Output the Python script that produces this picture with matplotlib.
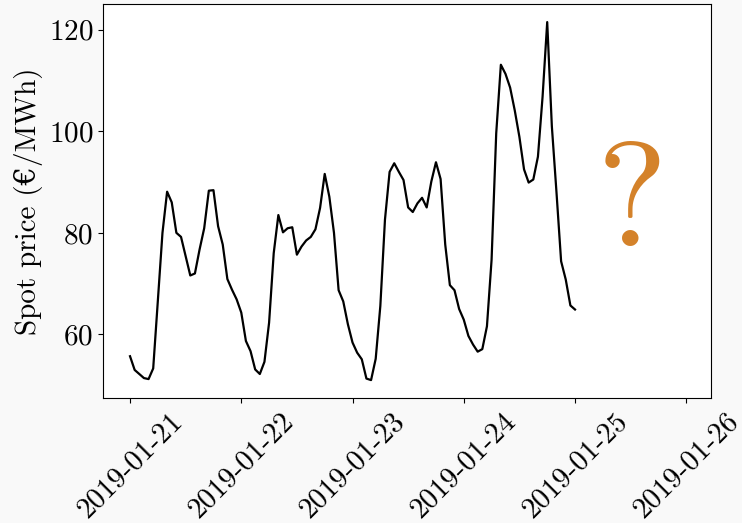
import numpy
import pandas as pd
from matplotlib import pyplot as plt
import matplotlib.dates as mdates

plt.rcParams['font.family'] = ['cmr10', 'DejaVu Serif']
plt.rcParams['axes.formatter.use_mathtext'] = True
plt.rcParams['axes.unicode_minus'] = False

# hourly day-ahead spot price, 2019-01-21 00:00 .. 2019-01-25 00:00
start = '2019-01-21 00:00'
price = [55.7, 53.0, 52.2, 51.4, 51.2, 53.3, 66.6, 80.0, 88.1, 86.0,
         80.0, 79.2, 75.4, 71.6, 72.0, 76.7, 80.9, 88.3, 88.4, 81.3,
         77.7, 70.9, 68.8, 66.9, 64.3, 58.7, 56.7, 53.1, 52.2, 54.6,
         62.3, 76.0, 83.5, 80.1, 80.9, 81.1, 75.7, 77.3, 78.5, 79.2,
         80.7, 84.9, 91.6, 87.1, 80.0, 68.7, 66.5, 62.0, 58.4, 56.4,
         55.1, 51.3, 51.0, 55.2, 65.6, 82.6, 92.0, 93.7, 92.0, 90.4,
         85.0, 84.1, 85.8, 86.9, 85.0, 90.1, 93.9, 90.6, 77.7, 69.7,
         68.7, 65.0, 62.9, 59.7, 58.0, 56.6, 57.1, 61.6, 74.7, 99.6,
         113.1, 111.3, 108.6, 104.1, 98.9, 92.5, 89.9, 90.5, 95.0, 106.8,
         121.5, 101.0, 88.0, 74.4, 70.8, 65.7, 64.9]
times = pd.date_range(start, periods=len(price), freq='h')

forecast_time = pd.Timestamp('2019-01-25 12:20')
forecast_level = 84.8
x_left = pd.Timestamp('2019-01-21') - pd.Timedelta(hours=5.8)
x_right = pd.Timestamp('2019-01-26') + pd.Timedelta(hours=5.3)

f = plt.figure(figsize=(7.42, 5.23), dpi=100, facecolor='#f9f9f9')
ax = f.add_axes([0.139, 0.239, 0.819, 0.753])
ax.plot(times, price, color='black', lw=1.6)
ax.text(forecast_time, forecast_level, '?', fontsize=108, color='#d4822a',
        ha='center', va='center')

ax.set_xlim(x_left, x_right)
ax.xaxis.set_major_locator(mdates.DayLocator())
ax.xaxis.set_major_formatter(mdates.DateFormatter('%Y-%m-%d'))
ax.set_yticks([60, 80, 100, 120])
ax.tick_params(labelsize=21)
plt.xticks(rotation=45)
ax.set_ylabel('Spot price (€/MWh)', fontsize=21)
plt.savefig('out.png', facecolor=f.get_facecolor())
